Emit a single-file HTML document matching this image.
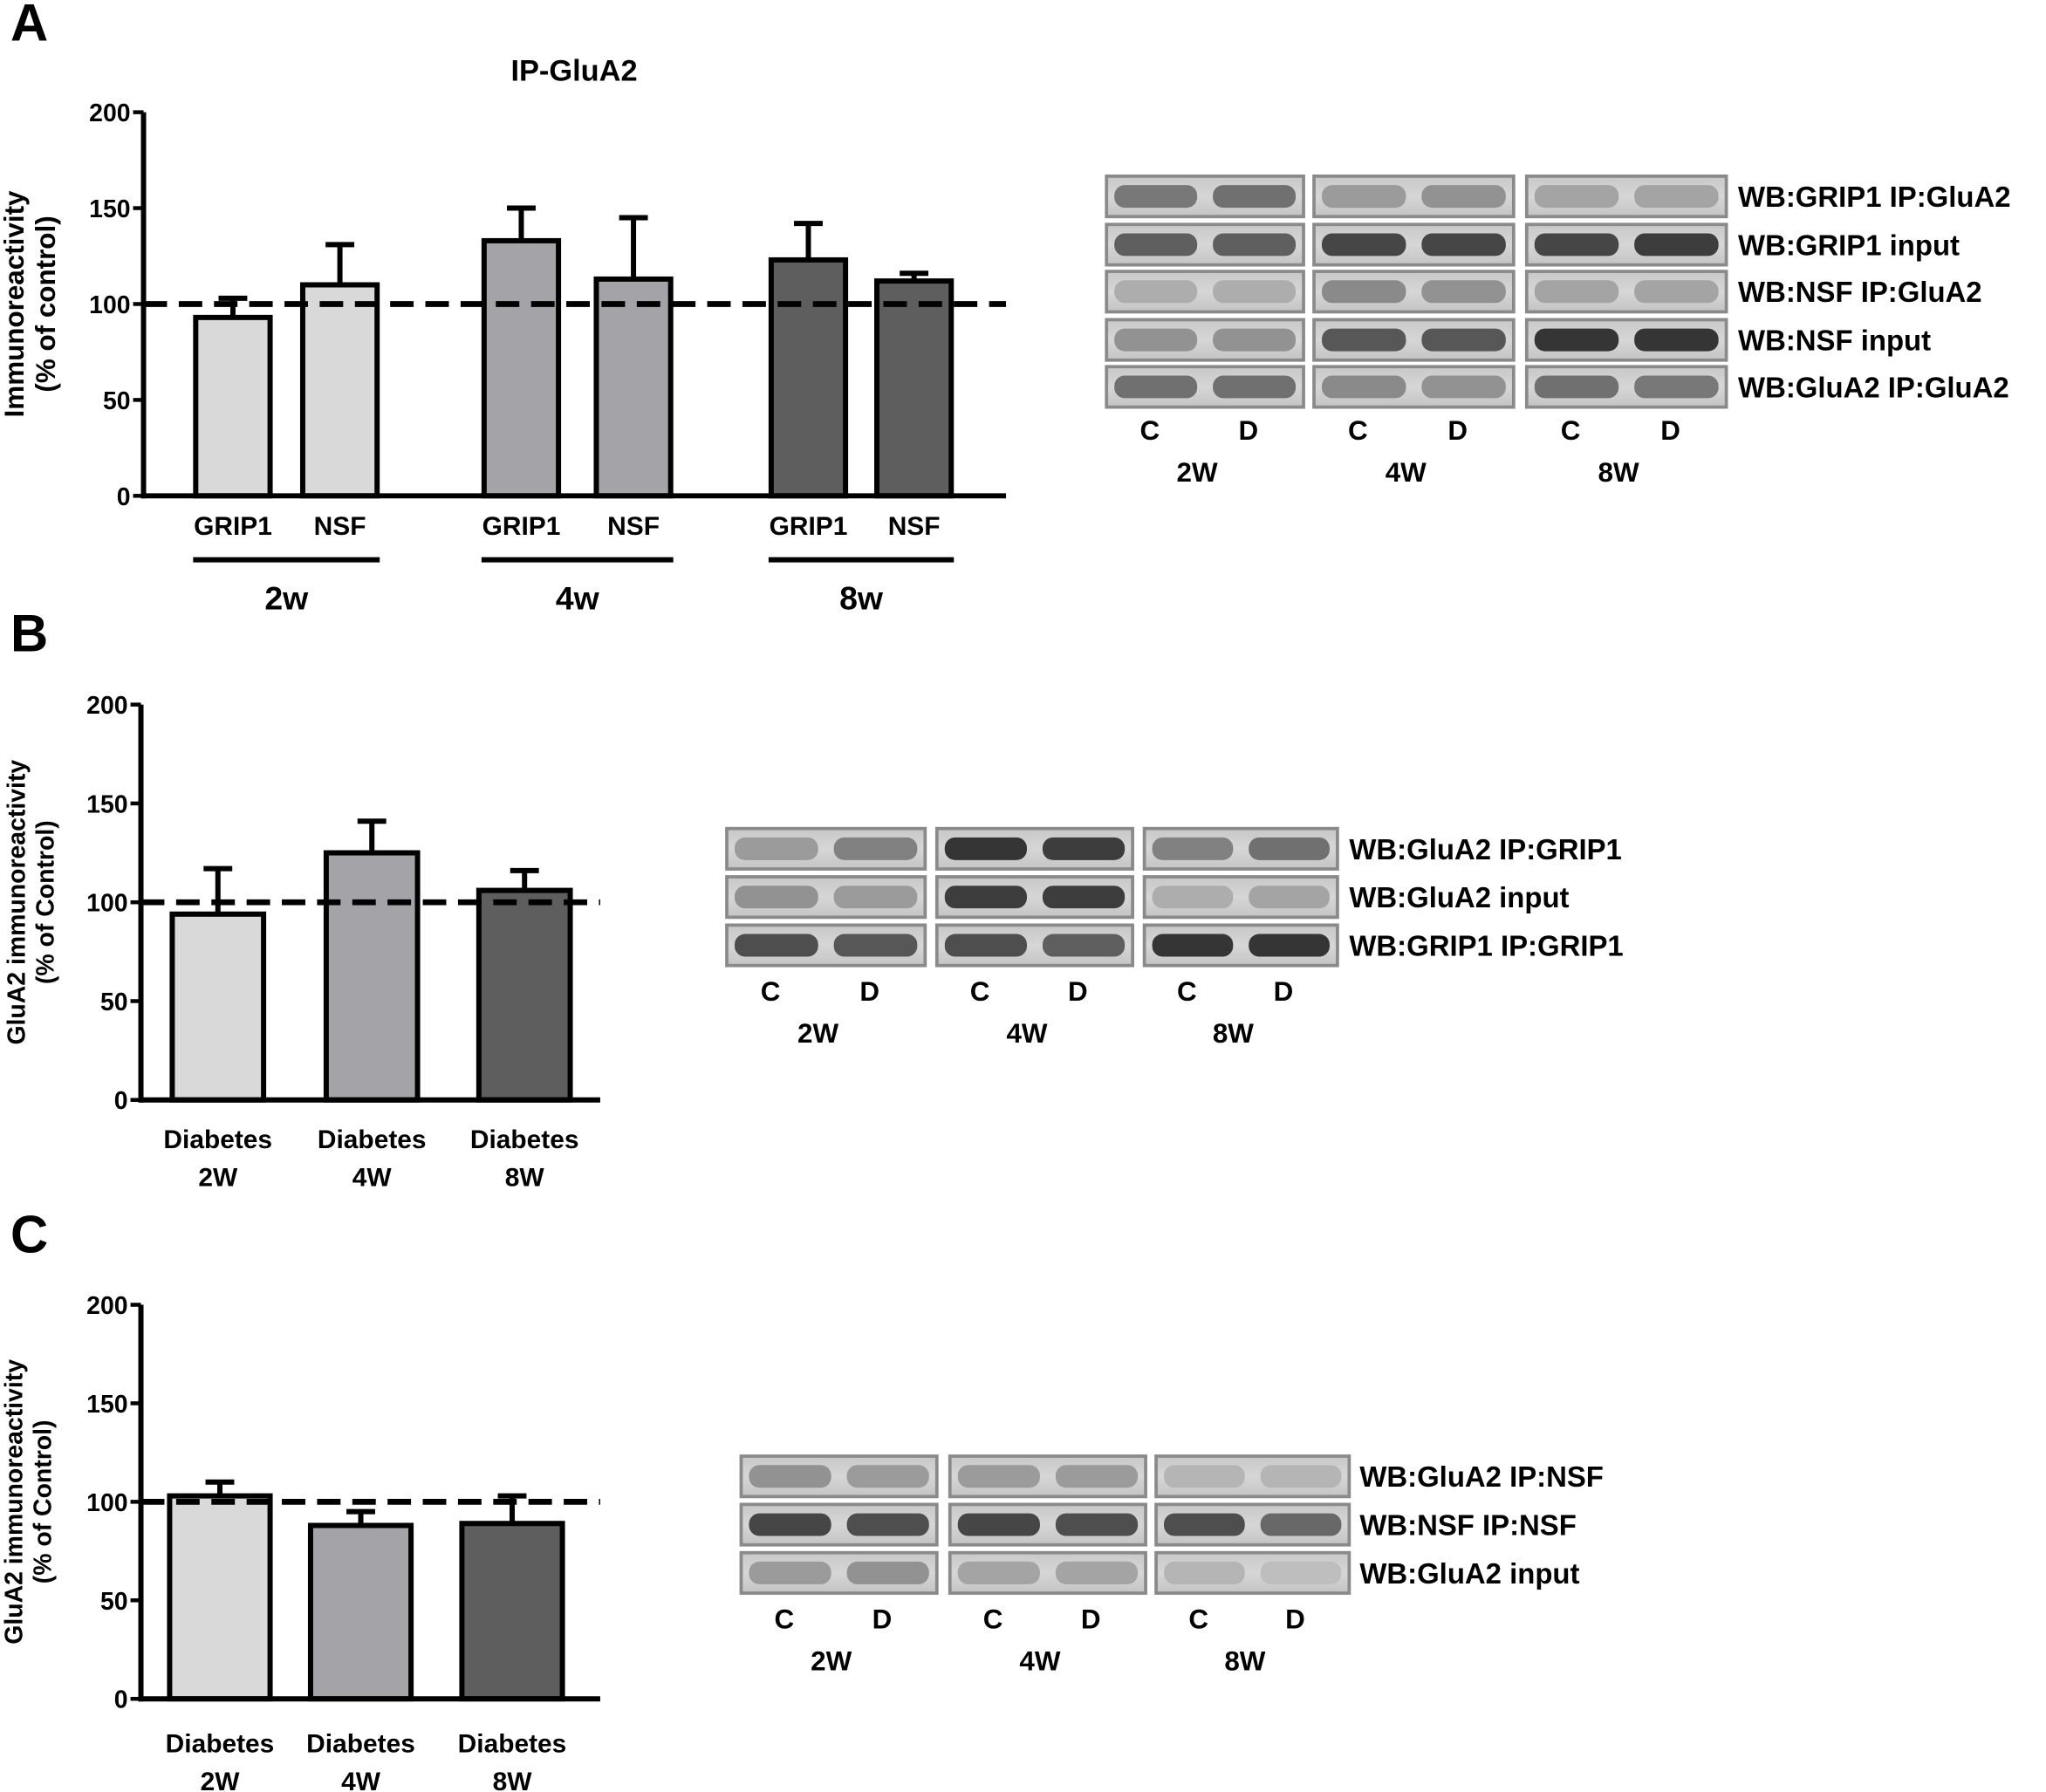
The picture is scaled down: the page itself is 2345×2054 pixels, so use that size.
<!DOCTYPE html>
<html><head><meta charset="utf-8">
<style>
html,body{margin:0;padding:0;background:#fff;}
svg{display:block;}
text{font-family:"Liberation Sans",Arial,sans-serif;font-weight:bold;fill:#000;}
</style></head>
<body>
<svg id="fig" width="2345" height="2054" viewBox="0 0 1568 1373.4" xmlns="http://www.w3.org/2000/svg">
<defs>
<linearGradient id="blotbg" x1="0" y1="0" x2="0" y2="1">
<stop offset="0" stop-color="#c8c8c8"/><stop offset="0.5" stop-color="#d6d6d6"/><stop offset="1" stop-color="#c4c4c4"/>
</linearGradient>
</defs>
<g id="root"></g>
</svg>
<script>
// ---- Panel A data ----
const aCategories = ["GRIP1","NSF","GRIP1","NSF","GRIP1","NSF"];
const aGroups = ["2w","4w","8w"];
const aValues = [93,110,133,113,123,112];
const aErrors = [10,21,17,32,19,4];
const aTicks = [0,50,100,150,200];
// ---- Panel B data ----
const bCategories = ["Diabetes\n2W","Diabetes\n4W","Diabetes\n8W"];
const bValues = [94,125,106];
const bErrors = [23,16,10];
// ---- Panel C data ----
const cCategories = ["Diabetes\n2W","Diabetes\n4W","Diabetes\n8W"];
const cValues = [103,88,89];
const cErrors = [7,7,14];
const yTicks = [0,50,100,150,200];
// ---- Blot labels ----
const aBlotLabels = ["WB:GRIP1  IP:GluA2","WB:GRIP1  input","WB:NSF  IP:GluA2","WB:NSF  input","WB:GluA2  IP:GluA2"];
const aBlotIntensity = [[0.55,0.6,0.35,0.4,0.3,0.3],[0.7,0.7,0.85,0.85,0.85,0.9],[0.25,0.25,0.45,0.4,0.3,0.3],[0.4,0.4,0.75,0.75,0.95,0.95],[0.6,0.6,0.45,0.4,0.6,0.55]];
const bBlotLabels = ["WB:GluA2  IP:GRIP1","WB:GluA2  input","WB:GRIP1  IP:GRIP1"];
const bBlotIntensity = [[0.35,0.5,0.95,0.9,0.5,0.6],[0.4,0.35,0.9,0.9,0.25,0.3],[0.8,0.75,0.8,0.7,0.95,0.95]];
const cBlotLabels = ["WB:GluA2  IP:NSF","WB:NSF  IP:NSF","WB:GluA2  input"];
const cBlotIntensity = [[0.4,0.35,0.35,0.35,0.2,0.2],[0.85,0.8,0.85,0.8,0.8,0.65],[0.35,0.4,0.3,0.3,0.2,0.15]];
const weekLabels = ["2W","4W","8W"];

const NS="http://www.w3.org/2000/svg";
const root=document.getElementById('root');
function el(tag,attrs,parent){const e=document.createElementNS(NS,tag);for(const k in attrs)e.setAttribute(k,attrs[k]);(parent||root).appendChild(e);return e;}
function txt(x,y,s,size,anchor,parent){const t=el('text',{x:x,y:y,'font-size':size,'text-anchor':anchor||'middle'},parent);t.textContent=s;return t;}

const grays=["#d9d9d9","#a3a3a8","#5e5e5e"];

function drawChart(cfg){
  const g=el('g',{});
  
  
  const y=v=>cfg.y0-(v/200)*(cfg.y0-cfg.y200);
  cfg.values.forEach((v,i)=>{
    const x0=cfg.barX[i],w=cfg.barW;
    const top=y(v+cfg.errors[i]);
    const eb=el('path',{d:`M${x0+w/2},${y(v)} V${top} M${x0+w/2-11},${top} H${x0+w/2+11}`,stroke:'#000','stroke-width':4,fill:'none'},g);
    
    
    const r=el('rect',{x:x0,y:y(v),width:w,height:cfg.y0-y(v),fill:cfg.colors[i],stroke:'#000','stroke-width':4},g);
    
    
  });
  const d=el('line',{x1:cfg.axisX,x2:cfg.axisEnd,y1:y(100),y2:y(100),stroke:'#000','stroke-width':4.5,'stroke-dasharray':'18,9'},g);
  
  
  const ya=el('line',{x1:cfg.axisX,x2:cfg.axisX,y1:cfg.y200,y2:cfg.y0+2,stroke:'#000','stroke-width':4},g);
  
  
  const xa=el('line',{x1:cfg.axisX-2,x2:cfg.axisEnd,y1:cfg.y0,y2:cfg.y0,stroke:'#000','stroke-width':4},g);
  
  
  cfg.ticks.forEach(t=>{
    el('line',{x1:cfg.axisX-8,x2:cfg.axisX,y1:y(t),y2:y(t),stroke:'#000','stroke-width':3},g);
    const tl=txt(cfg.axisX-10,y(t)+7,String(t),19,'end',g);
    
    
  });
  const tt=el('text',{transform:`translate(${cfg.titleX},${(cfg.y0+cfg.y200)/2}) rotate(-90)`,'font-size':cfg.titleSize,'text-anchor':'middle'},g);
  
  
  cfg.title.forEach((line,i)=>{const ts=el('tspan',{x:0,dy:i===0?0:cfg.titleSize+3},tt);ts.textContent=line;});
  cfg.cats.forEach((c,i)=>{
    const lines=c.split('\n');
    lines.forEach((ln,j)=>{
      const l=txt(cfg.barX[i]+cfg.barW/2,cfg.catY+j*29,ln,20,'middle',g);
      
      
    });
  });
  return {g,y};
}

const aBarX=[150,232,371,457,591,672];
const A=drawChart({name:'chart-a',values:aValues,errors:aErrors,barX:aBarX,barW:57,colors:[grays[0],grays[0],grays[1],grays[1],grays[2],grays[2]],
  axisX:110,axisEnd:771,y0:380,y200:86,ticks:aTicks,title:["Immunoreactivity","(% of control)"],titleX:18,titleSize:21,cats:aCategories,catY:410});
aGroups.forEach((gname,i)=>{
  const x1=aBarX[i*2]-2,x2=aBarX[i*2+1]+59;
  const ln=el('line',{x1:x1,x2:x2,y1:429,y2:429,stroke:'#000','stroke-width':4},A.g);
  
  
  const t=txt((x1+x2)/2,467,gname,25,'middle',A.g);
  
  
});
const at=txt(440,62,"IP-GluA2",23,'middle');



drawChart({name:'chart-b',values:bValues,errors:bErrors,barX:[132,250,367],barW:70,colors:grays,
  axisX:108,axisEnd:460,y0:843,y200:540,ticks:yTicks,title:["GluA2 immunoreactivity","(% of Control)"],titleX:19,titleSize:19,cats:bCategories,catY:880});
drawChart({name:'chart-c',values:cValues,errors:cErrors,barX:[130,238,354],barW:77,colors:grays,
  axisX:108,axisEnd:460,y0:1302,y200:1000,ticks:yTicks,title:["GluA2 immunoreactivity","(% of Control)"],titleX:17,titleSize:19,cats:cCategories,catY:1343});

[["A",8,31],["B",8,499],["C",8,960]].forEach(p=>{
  const t=txt(p[1],p[2],p[0],40,'start');
  
  
});

function drawBlots(cfg){
  const g=el('g',{});
  
  
  cfg.labels.forEach((lab,r)=>{
    const y0=cfg.rowY[r];
    for(let k=0;k<3;k++){
      const x0=cfg.boxX[k],w=cfg.boxW[k];
      const box=el('rect',{x:x0,y:y0,width:w,height:cfg.h,fill:'url(#blotbg)',stroke:'#8a8a8a','stroke-width':2.5},g);
      
      
      for(let s=0;s<2;s++){
        const inten=cfg.intensity[r][k*2+s];
        const c=Math.round(215-inten*190);
        el('rect',{x:x0+6+s*(w/2),y:y0+cfg.h*0.22,width:w/2-12,height:cfg.h*0.56,rx:8,fill:`rgb(${c},${c},${c})`,opacity:0.9},g);
      }
    }
    const l=txt(cfg.labelX,y0+cfg.h/2+8,lab,22,'start',g);
    l.setAttribute('xml:space','preserve');
    
    
  });
  for(let k=0;k<3;k++){
    const cx=cfg.boxX[k],w=cfg.boxW[k];
    const cl=txt(cx+w*0.22,cfg.cdY,"C",21,'middle',g);
    
    
    const dl=txt(cx+w*0.72,cfg.cdY,"D",21,'middle',g);
    
    
    const wl=txt(cx+w*0.46,cfg.cdY+32,weekLabels[k],21,'middle',g);
    
    
  }
}
drawBlots({name:'blots-a',labels:aBlotLabels,intensity:aBlotIntensity,rowY:[135,172,208,245,281],h:31,boxX:[848,1007,1170],boxW:[151,153,153],labelX:1332,cdY:337});
drawBlots({name:'blots-b',labels:bBlotLabels,intensity:bBlotIntensity,rowY:[635,672,709],h:31,boxX:[557,718,877],boxW:[152,150,148],labelX:1034,cdY:767});
drawBlots({name:'blots-c',labels:cBlotLabels,intensity:cBlotIntensity,rowY:[1116,1153,1190],h:31,boxX:[568,728,886],boxW:[150,150,148],labelX:1042,cdY:1248});
</script>
</body></html>
